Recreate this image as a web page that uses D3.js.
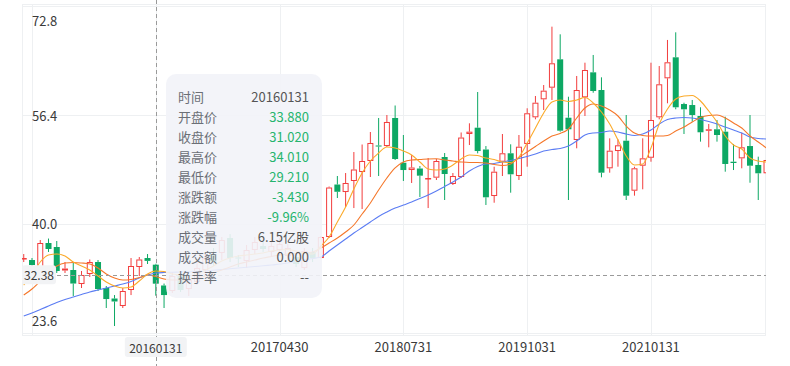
<!DOCTYPE html>
<html><head><meta charset="utf-8">
<script src="https://cdn.jsdelivr.net/npm/d3@7"></script>
<style>
html,body{margin:0;padding:0;background:#fff;}
svg{display:block;font-family:"Noto Sans CJK SC","Noto Sans",sans-serif;}
</style>
</head><body>
<svg id="chart" width="790" height="366"></svg>
<script>
// ---------- data (monthly) ----------
const dates = [
 "20140930","20141031","20141130","20141231",
 "20150131","20150228","20150331","20150430","20150531","20150630","20150731","20150831","20150930","20151031","20151130","20151231",
 "20160131","20160229","20160331","20160430","20160531","20160630","20160731","20160831","20160930","20161031","20161130","20161231",
 "20170131","20170228","20170331","20170430","20170531","20170630","20170731","20170831","20170930","20171031","20171130","20171231",
 "20180131","20180228","20180331","20180430","20180531","20180630","20180731","20180831","20180930","20181031","20181130","20181231",
 "20190131","20190228","20190331","20190430","20190531","20190630","20190731","20190831","20190930","20191031","20191130","20191231",
 "20200131","20200229","20200331","20200430","20200531","20200630","20200731","20200831","20200930","20201031","20201130","20201231",
 "20210131","20210228","20210331","20210430","20210531","20210630","20210731","20210831","20210930","20211031","20211130","20211231",
 "20220131","20220228","20220331"];
const openP = [
 34.81,34.58,32.48,37.14,
 36.54,33.00,33.08,30.97,32.48,34.28,30.37,28.79,27.66,30.07,33.53,34.88,
 33.88,30.75,29.92,32.17,30.22,31.27,33.08,35.48,35.64,37.89,34.96,34.43,
 36.09,36.69,35.79,36.09,35.18,35.03,33.38,35.79,34.88,38.04,45.94,44.81,
 46.47,47.82,49.48,51.81,51.73,55.95,49.22,48.12,48.35,46.77,46.97,50.08,
 46.02,47.07,53.54,54.49,51.21,44.21,49.37,50.64,47.22,52.04,56.05,58.76,
 60.51,64.78,55.99,52.64,59.06,62.82,60.16,48.38,50.98,52.53,45.01,48.77,
 49.97,56.05,61.92,65.08,58.05,57.90,56.25,54.04,54.25,53.89,49.37,49.88,
 51.73,48.88,47.63];
const closeP = [
 34.88,33.83,37.14,36.24,
 32.93,33.30,31.04,32.33,34.28,30.22,28.71,28.34,29.92,33.68,34.66,34.45,
 31.02,29.31,32.17,30.07,31.57,33.38,34.88,34.28,37.59,34.88,34.81,36.09,
 37.29,36.24,36.69,36.99,36.39,33.98,35.94,34.88,38.04,45.49,44.85,46.17,
 48.20,49.48,52.19,51.66,55.35,49.78,48.12,48.50,47.27,46.92,49.48,47.52,
 47.22,53.01,53.89,50.98,44.02,47.87,50.64,47.48,51.63,56.66,58.25,60.06,
 64.18,54.04,54.25,60.16,63.17,60.01,47.72,51.03,51.84,44.26,48.38,49.88,
 55.65,61.02,64.33,57.56,57.26,56.40,53.80,54.25,53.39,49.03,49.18,51.54,
 48.77,47.63,49.63];
const highP = [
 35.48,34.88,37.59,37.81,
 37.44,34.28,34.13,32.93,34.66,34.58,30.67,29.31,30.37,34.88,35.03,35.48,
 34.01,31.04,32.78,32.78,32.17,34.28,35.64,36.39,38.04,38.49,35.33,36.84,
 38.04,37.29,37.59,37.89,36.99,35.64,36.39,36.39,38.19,45.64,47.22,47.67,
 50.83,51.96,53.84,55.95,56.40,57.83,53.39,50.38,48.73,49.93,49.78,50.68,
 47.67,53.77,55.15,59.86,51.73,48.62,53.54,51.99,53.39,57.41,59.26,60.91,
 69.69,68.54,59.15,62.27,64.27,65.43,62.07,52.89,52.74,56.40,48.62,52.89,
 64.27,63.77,67.69,68.84,58.25,58.66,57.56,55.05,55.65,56.14,52.04,53.74,
 56.40,50.13,50.13];
const lowP = [
 34.28,32.63,32.02,35.79,
 32.63,32.63,29.16,30.37,32.02,29.92,27.36,24.65,27.36,29.31,32.17,33.98,
 29.21,27.36,29.62,29.77,29.16,30.82,32.63,33.68,34.58,34.28,33.53,33.38,
 35.48,35.79,35.18,35.18,34.58,33.53,33.08,34.28,34.81,37.89,43.91,42.55,
 42.40,42.25,47.07,47.22,51.58,49.63,46.47,46.17,44.06,42.40,46.62,43.61,
 45.87,46.92,51.88,50.63,42.86,43.20,47.22,44.71,46.62,48.62,55.75,57.15,
 58.66,53.89,43.61,51.39,56.25,59.75,47.02,47.72,48.62,43.61,44.26,45.22,
 49.37,55.75,58.16,57.26,53.54,55.39,52.39,51.54,52.39,47.87,48.12,48.38,
 46.21,43.61,47.37];
const ma5 = [
 30.82,32.33,34.28,35.33,
 35.48,35.18,34.28,33.68,33.08,32.17,31.27,30.67,30.37,30.52,31.42,32.48,
 32.93,32.85,32.48,32.33,32.17,32.48,33.08,33.68,34.43,34.88,35.18,35.33,
 35.48,35.64,35.94,36.09,36.16,35.94,35.64,35.48,36.69,38.04,40.30,42.55,
 45.27,47.67,49.48,50.68,51.58,51.43,50.98,50.38,49.33,48.27,48.12,48.27,
 48.88,49.78,50.38,50.30,49.93,49.70,49.33,49.25,50.08,52.19,54.44,56.70,
 58.36,58.66,58.43,58.66,59.03,58.21,56.85,55.05,52.64,50.23,48.88,49.03,
 51.43,55.05,57.30,58.81,59.26,59.33,58.51,57.00,55.35,53.24,51.88,51.28,
 49.93,49.48,49.33];
const ma10 = [
 29.31,30.22,31.42,32.78,
 33.68,34.13,34.21,34.13,33.98,33.38,32.48,31.87,31.57,31.65,31.95,32.33,
 32.10,31.72,31.57,31.57,31.65,31.87,32.17,32.63,33.08,33.53,33.98,34.28,
 34.58,34.88,35.11,35.33,35.48,35.56,35.64,35.79,36.39,37.14,37.89,38.79,
 39.85,41.50,43.16,45.11,46.92,48.43,49.33,49.63,49.70,49.78,49.82,49.63,
 49.48,49.33,49.25,49.25,49.18,48.95,48.80,49.03,50.01,50.83,51.66,52.49,
 53.24,53.62,54.29,55.95,57.45,58.05,57.75,57.15,56.25,54.74,53.69,53.32,
 53.24,53.24,53.32,53.99,54.59,55.35,56.02,56.32,56.40,55.95,55.20,54.44,
 53.24,52.34,51.43];
const ma30 = [
 26.16,26.61,27.13,27.66,
 28.19,28.64,29.02,29.39,29.77,30.07,30.37,30.67,30.97,31.35,31.87,32.33,
 32.63,32.70,32.73,32.78,32.81,32.85,32.93,33.03,33.15,33.26,33.38,33.50,
 33.61,33.71,33.83,33.98,34.13,34.36,34.58,34.81,35.03,35.94,36.84,37.74,
 38.64,39.47,40.30,41.13,41.80,42.40,42.86,43.31,43.84,44.36,44.96,45.64,
 46.32,47.07,47.97,48.65,49.03,49.10,49.33,49.55,49.85,50.15,50.53,50.98,
 51.21,51.36,51.73,52.49,53.39,53.69,53.77,53.99,53.84,53.54,53.32,53.54,
 54.14,55.05,55.72,55.95,56.02,55.95,55.72,55.42,55.05,54.59,54.14,53.69,
 53.09,52.86,52.79];
const yTickValues = [72.8, 56.4, 40.0, 23.6];
const xGridDates = ["20141031","20160131","20170430","20180731","20191031","20210131"];
const xTickLabels = ["20170430","20180731","20191031","20210131"];
const crosshairDate = "20160131";
const crosshairPrice = 32.38;
const tooltipLabels = ["时间","开盘价","收盘价","最高价","最低价","涨跌额","涨跌幅","成交量","成交额","换手率"];
const crossVolume = "6.15亿股";
const crossAmount = "0.000";
const crossTurnover = "--";

// ---------- layout ----------
const svg = d3.select("#chart");
const P = {left:22, right:766, top:4, bottom:335};
const step = 8.253;
const x0 = 32 - step*1.5;
const x = d3.scaleBand().domain(dates).range([x0, x0 + step*dates.length]).padding(0);
const cx = d => x(d) + x.bandwidth()/2;
const y = d3.scaleLinear().domain([23.299, 73.101]).range([P.bottom, P.top]);

const UP = "#F23D3D", DOWN = "#0DA864", GRID = "#EEF0F2";
const bars = dates.map((d,i)=>({d, o:openP[i], c:closeP[i], h:highP[i], l:lowP[i]}));

svg.append("defs").append("clipPath").attr("id","clip")
  .append("rect").attr("x",P.left).attr("y",P.top).attr("width",P.right-P.left).attr("height",P.bottom-P.top);

// grid + border
const g = svg.append("g");
g.selectAll(".hg").data(yTickValues).join("line")
  .attr("x1",P.left).attr("x2",P.right).attr("y1",v=>Math.round(y(v))+0.5).attr("y2",v=>Math.round(y(v))+0.5)
  .attr("stroke",GRID);
g.selectAll(".vg").data(xGridDates).join("line")
  .attr("x1",d=>Math.round(cx(d))+0.5).attr("x2",d=>Math.round(cx(d))+0.5).attr("y1",P.top).attr("y2",P.bottom)
  .attr("stroke",GRID);
g.append("rect").attr("x",P.left+0.5).attr("y",P.top+0.5).attr("width",P.right-P.left-1).attr("height",P.bottom-P.top)
  .attr("fill","none").attr("stroke",GRID);

// candles
const cg = svg.append("g").attr("clip-path","url(#clip)");
const bw = 6;
bars.forEach(b=>{
  const X = cx(b.d);
  const up = b.c >= b.o;
  const col = up ? UP : DOWN;
  const top = y(Math.max(b.o,b.c)), bot = y(Math.min(b.o,b.c));
  const hgt = Math.max(1, bot-top);
  cg.append("line").attr("x1",X).attr("x2",X).attr("y1",y(b.h)).attr("y2",top).attr("stroke",col).attr("stroke-width",1);
  cg.append("line").attr("x1",X).attr("x2",X).attr("y1",top+hgt).attr("y2",y(b.l)).attr("stroke",col).attr("stroke-width",1);
  if (up) {
    cg.append("rect").attr("x",X-bw/2+0.5).attr("y",top+0.5).attr("width",bw-1).attr("height",Math.max(0.5,hgt-1))
      .attr("fill","#fff").attr("stroke",col).attr("stroke-width",1);
  } else {
    cg.append("rect").attr("x",X-bw/2).attr("y",top).attr("width",bw).attr("height",hgt).attr("fill",col);
  }
});

// moving averages
const maSeries = [{v:ma30,c:"#5B7CF3"},{v:ma10,c:"#F5772A"},{v:ma5,c:"#FBAA2A"}];
maSeries.forEach(s=>{
  const line = d3.line().x((d,i)=>cx(dates[i])).y(d=>y(d)).curve(d3.curveMonotoneX);
  cg.append("path").attr("d",line(s.v)).attr("fill","none").attr("stroke",s.c).attr("stroke-width",1.1);
});

// y labels
const clampY = v => Math.max(P.top+16, Math.min(P.bottom-15, y(v)));
svg.append("g").selectAll("text").data(yTickValues).join("text")
  .attr("x",32).attr("y",v=>clampY(v)).attr("dominant-baseline","central")
  .attr("font-size",13).attr("fill","#3a3a3a").text(v=>v.toFixed(1));

// x labels
svg.append("g").selectAll("text").data(xTickLabels).join("text")
  .attr("x",d=>cx(d)).attr("y",346).attr("text-anchor","middle").attr("dominant-baseline","central")
  .attr("font-size",13).attr("fill","#3a3a3a").text(d=>d);

// crosshair
const chx = cx(crosshairDate), chy = y(crosshairPrice);
svg.append("line").attr("x1",Math.round(chx)+0.5).attr("x2",Math.round(chx)+0.5).attr("y1",0).attr("y2",366)
  .attr("stroke","#9a9a9a").attr("stroke-dasharray","4,3");
svg.append("line").attr("x1",P.left).attr("x2",P.right).attr("y1",Math.round(chy)+0.5).attr("y2",Math.round(chy)+0.5)
  .attr("stroke","#9a9a9a").attr("stroke-dasharray","4,3");

// tooltip
const ci = dates.indexOf(crosshairDate);
const cb = bars[ci], prevClose = closeP[ci-1];
const chg = cb.c - prevClose;
const downCol = "#26B46E", upCol = "#F23D3D", valGray = "#555";
const pc = cb.c >= prevClose ? upCol : downCol;
const tipValues = [
  {t:cb.d, c:valGray},
  {t:cb.o.toFixed(3), c:pc},
  {t:cb.c.toFixed(3), c:pc},
  {t:cb.h.toFixed(3), c:pc},
  {t:cb.l.toFixed(3), c:pc},
  {t:chg.toFixed(3), c:pc},
  {t:(chg/prevClose*100).toFixed(2)+"%", c:pc},
  {t:crossVolume, c:valGray},
  {t:crossAmount, c:valGray},
  {t:crossTurnover, c:valGray}];
const tg = svg.append("g");
tg.append("rect").attr("x",166).attr("y",74).attr("width",156).attr("height",224).attr("rx",10)
  .attr("fill","#F2F3F8").attr("fill-opacity",0.9);
tg.selectAll(".tl").data(tooltipLabels).join("text")
  .attr("x",178).attr("y",(d,i)=>96+i*20).attr("dominant-baseline","central")
  .attr("font-size",13).attr("fill","#6b6f76").text(d=>d);
tg.selectAll(".tv").data(tipValues).join("text")
  .attr("x",309).attr("y",(d,i)=>96+i*20).attr("dominant-baseline","central").attr("text-anchor","end")
  .attr("font-size",13).attr("fill",d=>d.c).text(d=>d.t);

// crosshair labels
svg.append("rect").attr("x",chx-31).attr("y",337).attr("width",62).attr("height",20).attr("rx",3).attr("fill","#F2F3F5");
svg.append("text").attr("x",chx).attr("y",347).attr("text-anchor","middle").attr("dominant-baseline","central")
  .attr("font-size",12).attr("fill","#3a3a3a").text(crosshairDate);
svg.append("rect").attr("x",P.left).attr("y",chy-9.5).attr("width",34).attr("height",19).attr("rx",3).attr("fill","#F2F3F5");
svg.append("text").attr("x",P.left+17).attr("y",chy).attr("text-anchor","middle").attr("dominant-baseline","central")
  .attr("font-size",12).attr("fill","#3a3a3a").text(crosshairPrice.toFixed(2));
</script>
</body></html>
